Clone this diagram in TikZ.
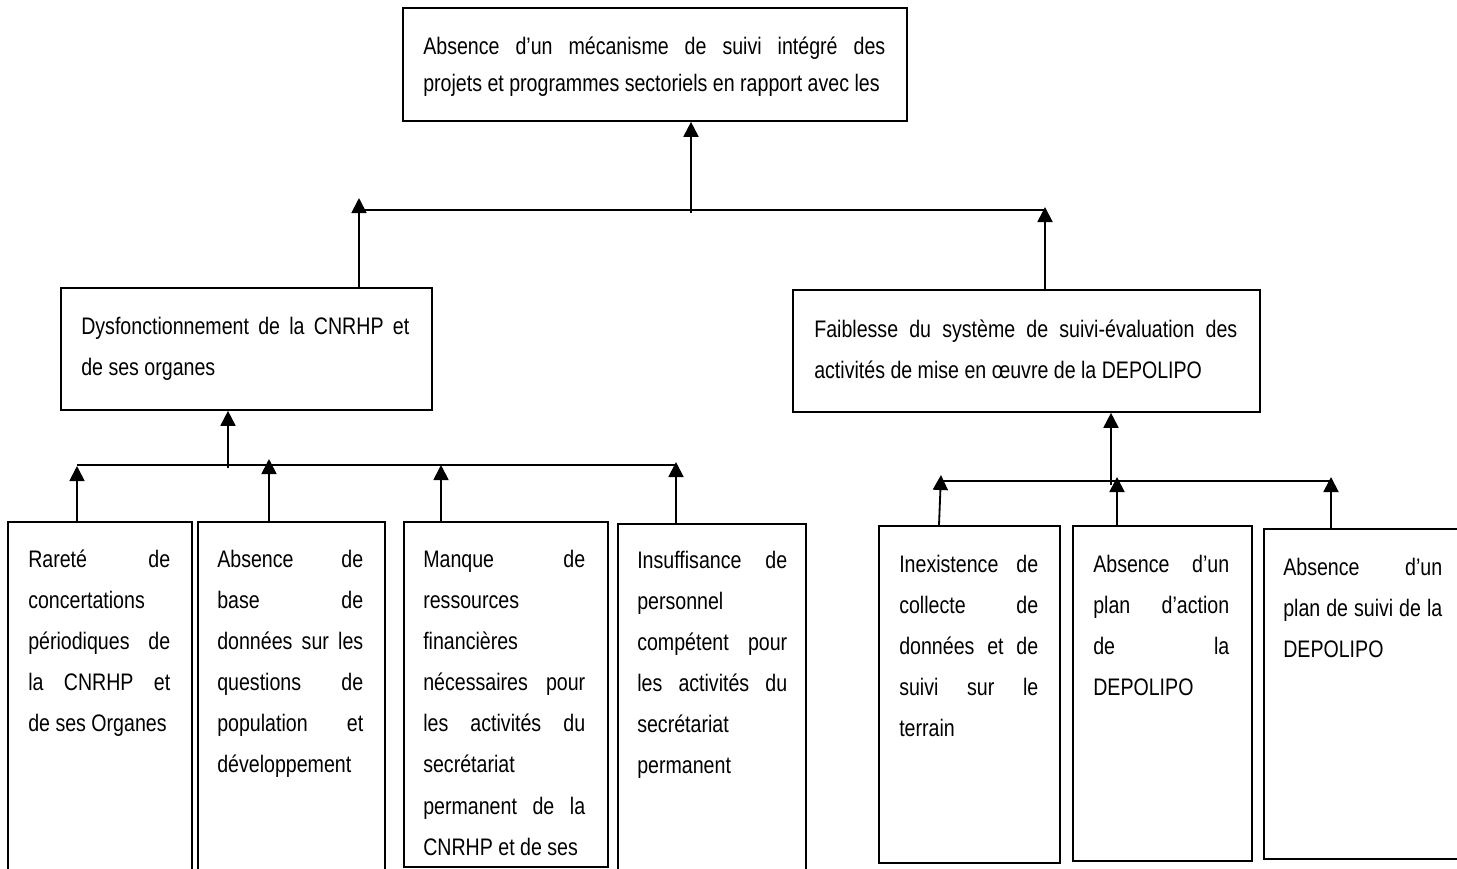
\documentclass[tikz,border=0pt]{standalone}
\usepackage{fontspec}
\setmainfont{Liberation Sans}[FakeStretch=0.82]
\usetikzlibrary{arrows.meta}
\tolerance=10000 \hbadness=10000
\hyphenpenalty=10000 \exhyphenpenalty=10000

\begin{document}
\begin{tikzpicture}[
	box/.style={draw, line width=1.3pt, inner sep=0pt, anchor=north west},
	txt/.style={anchor=base west, align=justify, inner sep=0pt, font=\fontsize{17}{29.3}\selectfont},
	arr/.style={line width=1.3pt, -{Triangle[length=0.375cm, width=0.375cm]}},
	bus/.style={line width=1.3pt}]
	\useasboundingbox (0,0) rectangle (36.425,-21.7);
	\clip (0,0) rectangle (36.425,-21.7);
	% top
	\node[box, minimum width=12.6cm, minimum height=2.825cm] (top) at (10.05,-0.175) {};
	\node[txt, text width=11.55cm, font=\fontsize{17}{27}\selectfont] (ttop) at (10.575,-1.35) {Absence d’un mécanisme de suivi intégré des \linebreak projets et programmes sectoriels en rapport avec les};
	% middle
	\node[box, minimum width=9.275cm, minimum height=3.05cm] (dys) at (1.5,-7.175) {};
	\node[txt, text width=8.2cm] (tdys) at (2.025,-8.35) {Dysfonctionnement de la CNRHP et \linebreak de ses organes};
	\node[box, minimum width=11.675cm, minimum height=3.05cm] (fai) at (19.8,-7.225) {};
	\node[txt, text width=10.575cm] (tfai) at (20.35,-8.425) {Faiblesse du système de suivi-évaluation des \linebreak activités de mise en œuvre de la DEPOLIPO};
	% bottom, left
	\node[box, minimum width=4.6cm, minimum height=9cm] (rar) at (0.175,-13.025) {};
	\node[txt, text width=3.55cm] (trar) at (0.7,-14.175) {Rareté de \linebreak concertations \linebreak périodiques de \linebreak la CNRHP et \linebreak de ses Organes};
	\node[box, minimum width=4.675cm, minimum height=9cm] (bas) at (4.925,-13.025) {};
	\node[txt, text width=3.65cm] (tbas) at (5.425,-14.175) {Absence de \linebreak base de \linebreak données sur les \linebreak questions de \linebreak population et \linebreak développement};
	\node[box, minimum width=5.1cm, minimum height=8.625cm] (man) at (10.075,-13.025) {};
	\node[txt, text width=4.05cm] (tman) at (10.575,-14.175) {Manque de \linebreak ressources \linebreak financières \linebreak nécessaires pour \linebreak les activités du \linebreak secrétariat \linebreak permanent de la \linebreak CNRHP et de ses};
	\node[box, minimum width=4.7cm, minimum height=9cm] (ins) at (15.425,-13.075) {};
	\node[txt, text width=3.75cm] (tins) at (15.925,-14.2) {Insuffisance de \linebreak personnel \linebreak compétent pour \linebreak les activités du \linebreak secrétariat \linebreak permanent};
	% bottom, right
	\node[box, minimum width=4.525cm, minimum height=8.425cm] (ine) at (21.95,-13.125) {};
	\node[txt, text width=3.475cm] (tine) at (22.475,-14.3) {Inexistence de \linebreak collecte de \linebreak données et de \linebreak suivi sur le \linebreak terrain};
	\node[box, minimum width=4.475cm, minimum height=8.375cm] (pla) at (26.8,-13.125) {};
	\node[txt, text width=3.4cm] (tpla) at (27.325,-14.3) {Absence d’un \linebreak plan d’action \linebreak de la \linebreak DEPOLIPO};
	\node[box, minimum width=6cm, minimum height=8.25cm] (sui) at (31.575,-13.2) {};
	\node[txt, text width=3.975cm] (tsui) at (32.075,-14.375) {Absence d’un \linebreak plan de suivi de la \linebreak DEPOLIPO};
	% connectors, top level
	\coordinate (j0) at (17.275,-5.325);
	\coordinate (busA) at (8.975,-5.26);
	\coordinate (busB) at (26.125,-5.26);
	\coordinate (tipD) at (8.975,-4.95);
	\coordinate (tipF) at (26.125,-5.175);
	\draw[bus] (busA) -- (busB);
	\draw[arr] (j0) -- (j0 |- top.south);
	\draw[arr] (dys.north -| tipD) -- (tipD);
	\draw[arr] (fai.north -| tipF) -- (tipF);
	% connectors, left
	\coordinate (j1) at (5.7,-11.7);
	\coordinate (busC) at (1.925,-11.625);
	\coordinate (busD) at (16.9,-11.625);
	\coordinate (tip1) at (1.925,-11.65);
	\coordinate (tip2) at (6.725,-11.475);
	\coordinate (tip3) at (11.025,-11.625);
	\coordinate (tip4) at (16.9,-11.55);
	\draw[bus] (busC) -- (busD);
	\draw[arr] (j1) -- (j1 |- dys.south);
	\draw[arr] (rar.north -| tip1) -- (tip1);
	\draw[arr] (bas.north -| tip2) -- (tip2);
	\draw[arr] (man.north -| tip3) -- (tip3);
	\draw[arr] (ins.north -| tip4) -- (tip4);
	% connectors, right
	\coordinate (j2) at (27.775,-12.125);
	\coordinate (busE) at (23.525,-12.025);
	\coordinate (busF) at (33.275,-12.025);
	\coordinate (tip5) at (23.525,-11.875);
	\coordinate (tip6) at (27.925,-11.925);
	\coordinate (tip7) at (33.275,-11.925);
	\draw[bus] (busE) -- (busF);
	\draw[arr] (j2) -- (j2 |- fai.south);
	\draw[arr] ([xshift=-0.05cm]ine.north -| tip5) -- (tip5);
	\draw[arr] (pla.north -| tip6) -- (tip6);
	\draw[arr] (sui.north -| tip7) -- (tip7);
\end{tikzpicture}
\end{document}
